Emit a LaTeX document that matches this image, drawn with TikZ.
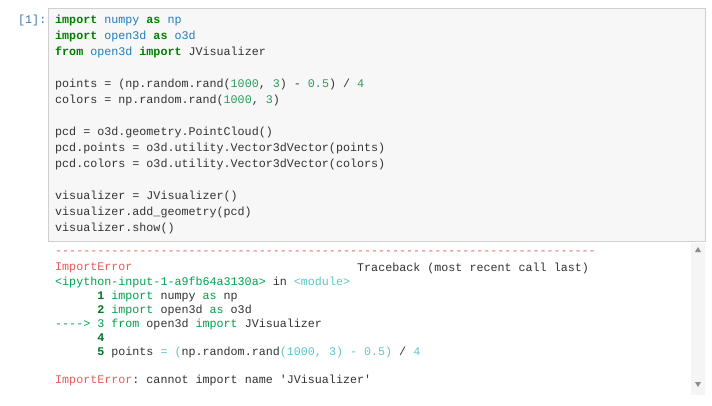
\documentclass[tikz,border=0pt]{standalone}
\usepackage{fontspec}
\setmainfont{DejaVu Sans}
\setmonofont{Liberation Mono}
\definecolor{kwgreen}{HTML}{008000}
\definecolor{modblue}{HTML}{1F7DC0}
\definecolor{numgreen}{HTML}{2E9B5E}
\definecolor{codegray}{HTML}{333333}
\definecolor{promptblue}{HTML}{3F72B5}
\definecolor{errred}{HTML}{E75C58}
\definecolor{outgreen}{HTML}{00A250}
\definecolor{outcyan}{HTML}{60C6C8}
\definecolor{lnogreen}{HTML}{007427}
\definecolor{boxfill}{HTML}{F7F7F7}
\definecolor{boxline}{HTML}{CFCFCF}
\newcommand{\kw}[1]{\textcolor{kwgreen}{\textbf{#1}}}
\newcommand{\md}[1]{\textcolor{modblue}{#1}}
\newcommand{\nm}[1]{\textcolor{numgreen}{#1}}
\newcommand{\er}[1]{\textcolor{errred}{#1}}
\newcommand{\og}[1]{\textcolor{outgreen}{#1}}
\newcommand{\oc}[1]{\textcolor{outcyan}{#1}}
\newcommand{\lno}[1]{\textcolor{lnogreen}{\textbf{#1}}}
\tikzset{
  codeline/.style={anchor=west, inner sep=0pt, text=codegray,
    font=\ttfamily\fontsize{11.7}{14}\selectfont},
}
\begin{document}
\begin{tikzpicture}[x=1pt, y=-1pt]
	\useasboundingbox[fill=white] (0,0) rectangle (712,405);
	% input cell
	\draw[boxline, fill=boxfill] (48.5,8.5) rectangle (705.5,241.5);
	\node[codeline, text=promptblue] (prompt) at (18,20) {[1]:};
	\node[codeline] (c1) at (55,20)  {\kw{import} \md{numpy} \kw{as} \md{np}};
	\node[codeline] (c2) at (55,36)  {\kw{import} \md{open3d} \kw{as} \md{o3d}};
	\node[codeline] (c3) at (55,52)  {\kw{from} \md{open3d} \kw{import} JVisualizer};
	\node[codeline] (c4) at (55,84)  {points = (np.random.rand(\nm{1000}, \nm{3}) - \nm{0.5}) / \nm{4}};
	\node[codeline] (c5) at (55,100) {colors = np.random.rand(\nm{1000}, \nm{3})};
	\node[codeline] (c6) at (55,132) {pcd = o3d.geometry.PointCloud()};
	\node[codeline] (c7) at (55,148) {pcd.points = o3d.utility.Vector3dVector(points)};
	\node[codeline] (c8) at (55,164) {pcd.colors = o3d.utility.Vector3dVector(colors)};
	\node[codeline] (c9) at (55,196) {visualizer = JVisualizer()};
	\node[codeline] (c10) at (55,212) {visualizer.add\_geometry(pcd)};
	\node[codeline] (c11) at (55,228) {visualizer.show()};
	% output
	\node[codeline] (o1) at (55,253) {\er{-----------------------------------------------------------------------------}};
	\node[codeline] (o2) at (55,268) {\er{ImportError}};
	\node[codeline] (o2r) at (357,268) {Traceback (most recent call last)};
	\node[codeline] (o3) at (55,282) {\og{<ipython-input-1-a9fb64a3130a>} in \oc{<module>}};
	\node[codeline] (o4) at (55,296) {\phantom{------}\lno{1} \og{import} numpy \og{as} np};
	\node[codeline] (o5) at (55,310) {\phantom{------}\lno{2} \og{import} open3d \og{as} o3d};
	\node[codeline] (o6) at (55,324) {\og{---->} \og{3} \og{from} open3d \og{import} JVisualizer};
	\node[codeline] (o7) at (55,338) {\phantom{------}\lno{4}};
	\node[codeline] (o8) at (55,352) {\phantom{------}\lno{5} points \oc{=} \oc{(}np.random.rand\oc{(1000,} \oc{3)} \oc{-} \oc{0.5)} / \oc{4}};
	\node[codeline] (o9) at (55,380) {\er{ImportError}: cannot import name 'JVisualizer'};
	% scrollbar
	\fill[black!4] (691,243) rectangle (705,395);
	\fill[black!45] (695,252) -- (701,252) -- (698,247) -- cycle;
	\fill[black!45] (695,382) -- (701,382) -- (698,387) -- cycle;
\end{tikzpicture}
\end{document}
